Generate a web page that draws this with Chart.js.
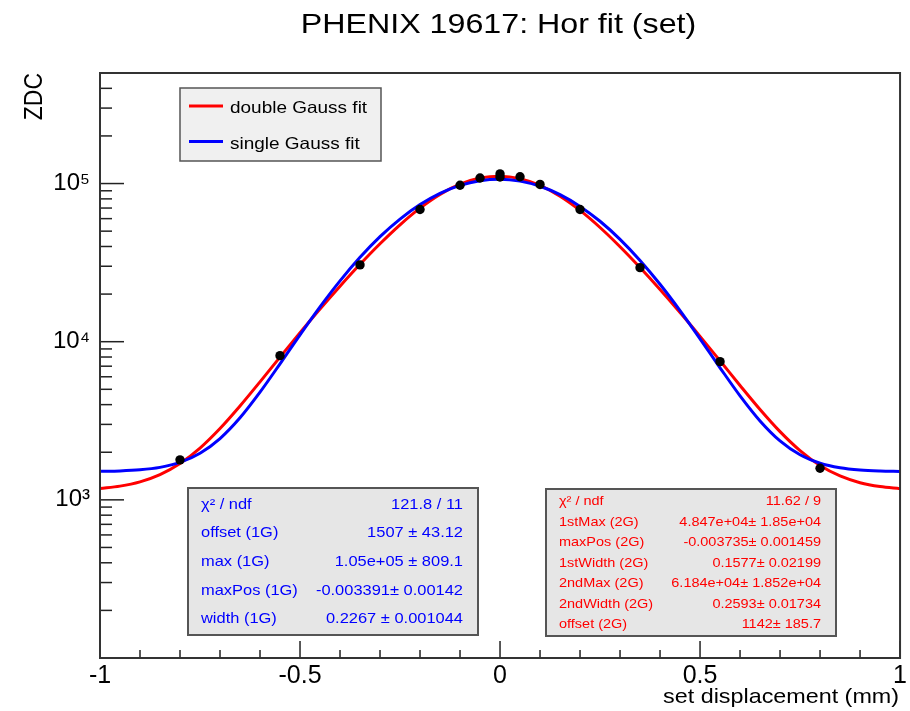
<!DOCTYPE html>
<html>
<head>
<meta charset="utf-8">
<script src="https://cdn.jsdelivr.net/npm/chart.js@4.4.0/dist/chart.umd.min.js"></script>
<style>
  html, body { margin: 0; padding: 0; background: #fff; overflow: hidden; }
  canvas { display: block; }
</style>
</head>
<body>
<canvas id="zdc" width="910" height="711"></canvas>
<script>
// measured scan points
const pointX = [-0.8, -0.55, -0.35, -0.2, -0.1, -0.05, 0, 0, 0.05, 0.1, 0.2, 0.35, 0.55, 0.8];
const pointY = [1790, 8160, 30600, 68500, 97600, 108400, 115000, 110000, 110400, 98700, 68500, 29400, 7480, 1585];

// fit curves
const fitX = [-1, -0.95, -0.9, -0.85, -0.8, -0.75, -0.7, -0.65, -0.6, -0.55, -0.5,
              -0.45, -0.4, -0.35, -0.3, -0.25, -0.2, -0.15, -0.1, -0.05, 0,
              0.05, 0.1, 0.15, 0.2, 0.25, 0.3, 0.35, 0.4, 0.45, 0.5,
              0.55, 0.6, 0.65, 0.7, 0.75, 0.8, 0.85, 0.9, 0.95, 1];
const doubleGauss = [1181, 1221, 1299, 1443, 1696, 2126, 2826, 3923, 5574, 7984, 11390,
                     16090, 22430, 30850, 41630, 54850, 69920, 85420, 99090, 108400, 111400,
                     107400, 97270, 83150, 67600, 52740, 39870, 29440, 21370, 15290, 10810,
                     7570, 5286, 3727, 2699, 2047, 1648, 1416, 1284, 1213, 1176];
const singleGauss = [1514, 1524, 1549, 1605, 1725, 1971, 2442, 3304, 4798, 7243, 11040,
                     16600, 24240, 34140, 46140, 59600, 73600, 86700, 97400, 104300, 106500,
                     103600, 96140, 85030, 71710, 57730, 44390, 32660, 23070, 15720, 10420,
                     6841, 4547, 3156, 2359, 1927, 1704, 1595, 1544, 1522, 1513];

const xTickLabels = ['-1', '-0.5', '0', '0.5', '1'];
const yTickValues = [1000, 10000, 100000];
const yTickLabels = ['10³', '10⁴', '10⁵'];

const legendLabels = ['double Gauss fit', 'single Gauss fit'];
const statsSingle = [
  ['χ² / ndf', '121.8 / 11'],
  ['offset (1G)', '1507 ± 43.12'],
  ['max (1G)', '1.05e+05 ± 809.1'],
  ['maxPos (1G)', '-0.003391± 0.00142'],
  ['width (1G)', '0.2267 ± 0.001044']
];
const statsDouble = [
  ['χ² / ndf', '11.62 / 9'],
  ['1stMax (2G)', '4.847e+04± 1.85e+04'],
  ['maxPos (2G)', '-0.003735± 0.001459'],
  ['1stWidth (2G)', '0.1577± 0.02199'],
  ['2ndMax (2G)', '6.184e+04± 1.852e+04'],
  ['2ndWidth (2G)', '0.2593± 0.01734'],
  ['offset (2G)', '1142± 185.7']
];

const RED = '#ff0000';
const BLUE = '#0000ff';
const FONT = '"Liberation Sans", Arial, sans-serif';
const SX = 1.15; // source picture is a bit wider than tall

function txt(ctx, str, x, y, size, color, align, rotated) {
  ctx.save();
  ctx.translate(x, y);
  if (rotated) {
    ctx.rotate(-Math.PI / 2);
    ctx.scale(1, SX);
  } else {
    ctx.scale(SX, 1);
  }
  ctx.font = size + 'px ' + FONT;
  ctx.fillStyle = color;
  ctx.textAlign = align;
  ctx.textBaseline = 'alphabetic';
  ctx.fillText(str, 0, 0);
  ctx.restore();
}

function box(ctx, x0, y0, x1, y1, fill, lw) {
  ctx.save();
  ctx.fillStyle = fill;
  ctx.fillRect(x0, y0, x1 - x0, y1 - y0);
  ctx.strokeStyle = '#555';
  ctx.lineWidth = lw;
  ctx.strokeRect(x0, y0, x1 - x0, y1 - y0);
  ctx.restore();
}

const decor = {
  id: 'decor',
  beforeDatasetsDraw(chart) {
    const ctx = chart.ctx;
    const a = chart.chartArea;
    const xs = chart.scales.x, ys = chart.scales.y;
    ctx.save();
    ctx.strokeStyle = '#222';
    ctx.lineWidth = 1.5;
    // x ticks, pointing inward
    xs.ticks.forEach(t => {
      const px = xs.getPixelForValue(t.value);
      const major = Math.abs(t.value * 2 - Math.round(t.value * 2)) < 1e-6;
      const len = major ? 17 : 8;
      ctx.beginPath();
      ctx.moveTo(px, a.bottom);
      ctx.lineTo(px, a.bottom - len);
      ctx.stroke();
    });
    // y ticks
    ys.ticks.forEach(t => {
      const py = ys.getPixelForValue(t.value);
      const major = yTickValues.includes(t.value);
      const len = major ? 24 : 12;
      ctx.beginPath();
      ctx.moveTo(a.left, py);
      ctx.lineTo(a.left + len, py);
      ctx.stroke();
    });
    ctx.restore();
  },
  afterDatasetsDraw(chart) {
    const ctx = chart.ctx;
    const a = chart.chartArea;
    // frame
    ctx.save();
    ctx.strokeStyle = '#333';
    ctx.lineWidth = 2;
    ctx.strokeRect(a.left, a.top, a.right - a.left, a.bottom - a.top);
    ctx.restore();

    // legend
    box(ctx, 180, 88, 381, 161, '#f0f0f0', 1.5);
    const legColors = [chart.data.datasets[2].borderColor, chart.data.datasets[1].borderColor];
    const legY = [106, 141.5];
    legendLabels.forEach((lab, i) => {
      ctx.save();
      ctx.strokeStyle = legColors[i];
      ctx.lineWidth = 3;
      ctx.beginPath();
      ctx.moveTo(189, legY[i]);
      ctx.lineTo(223, legY[i]);
      ctx.stroke();
      ctx.restore();
      txt(ctx, lab, 230, legY[i] + 7, 16.5, '#000', 'left');
    });

    // stats boxes
    box(ctx, 188, 488, 478, 635, '#e6e6e6', 2);
    statsSingle.forEach((r, i) => {
      const by = 508.5 + i * 28.7;
      txt(ctx, r[0], 201, by, 14.3, BLUE, 'left');
      txt(ctx, r[1], 463, by, 14.3, BLUE, 'right');
    });
    box(ctx, 546, 489, 836, 636, '#e6e6e6', 2);
    statsDouble.forEach((r, i) => {
      const by = 505 + i * 20.5;
      txt(ctx, r[0], 559, by, 12.6, RED, 'left');
      txt(ctx, r[1], 821, by, 12.6, RED, 'right');
    });
  },
  afterDraw(chart) {
    const ctx = chart.ctx;
    txt(ctx, 'PHENIX 19617: Hor fit (set)', 498.5, 33, 28, '#000', 'center');
    txt(ctx, 'ZDC', 42, 73, 23, '#000', 'right', true);
    txt(ctx, 'set displacement (mm)', 899, 703, 20.3, '#000', 'right');
  }
};

const pts = pointX.map((x, i) => ({ x: x, y: pointY[i] }));
const dbl = fitX.map((x, i) => ({ x: x, y: doubleGauss[i] }));
const sgl = fitX.map((x, i) => ({ x: x, y: singleGauss[i] }));

new Chart(document.getElementById('zdc').getContext('2d'), {
  type: 'scatter',
  data: {
    datasets: [{
      label: 'data',
      data: pts,
      pointRadius: 4.7,
      pointBackgroundColor: '#000',
      pointBorderColor: '#000',
      pointBorderWidth: 0,
      showLine: false
    }, {
      label: legendLabels[1],
      data: sgl,
      showLine: true,
      borderColor: BLUE,
      borderWidth: 3,
      pointRadius: 0,
      cubicInterpolationMode: 'monotone'
    }, {
      label: legendLabels[0],
      data: dbl,
      showLine: true,
      borderColor: RED,
      borderWidth: 3,
      pointRadius: 0,
      cubicInterpolationMode: 'monotone'
    }]
  },
  options: {
    responsive: false,
    animation: false,
    layout: { padding: { top: 73, right: 9, left: 0, bottom: 0 } },
    plugins: { legend: { display: false }, title: { display: false }, tooltip: { enabled: false } },
    scales: {
      x: {
        type: 'linear',
        min: -1,
        max: 1,
        grid: { display: false, drawTicks: false },
        border: { display: false },
        ticks: {
          stepSize: 0.1,
          autoSkip: false,
          maxRotation: 0,
          padding: 3,
          color: '#000',
          font: { family: FONT, size: 25 },
          callback: (v) => {
            const lab = xTickLabels.find(l => Math.abs(parseFloat(l) - v) < 1e-6);
            return lab === undefined ? '' : lab;
          }
        },
        afterFit: (s) => { s.height = 53; }
      },
      y: {
        type: 'logarithmic',
        min: 100,
        max: 500000,
        grid: { display: false, drawTicks: false },
        border: { display: false },
        afterBuildTicks: (s) => {
          const t = [];
          for (let e = 2; e <= 5; e++) {
            for (let m = 1; m <= 9; m++) {
              const v = m * Math.pow(10, e);
              if (v > 100 && v < 500000) t.push({ value: v });
            }
          }
          s.ticks = t;
        },
        ticks: {
          autoSkip: false,
          padding: 10,
          color: '#000',
          font: { family: FONT, size: 24 },
          callback: (v) => {
            const i = yTickValues.indexOf(v);
            return i < 0 ? '' : yTickLabels[i];
          }
        },
        afterFit: (s) => { s.width = 100; }
      }
    }
  },
  plugins: [decor]
});
</script>
</body>
</html>
